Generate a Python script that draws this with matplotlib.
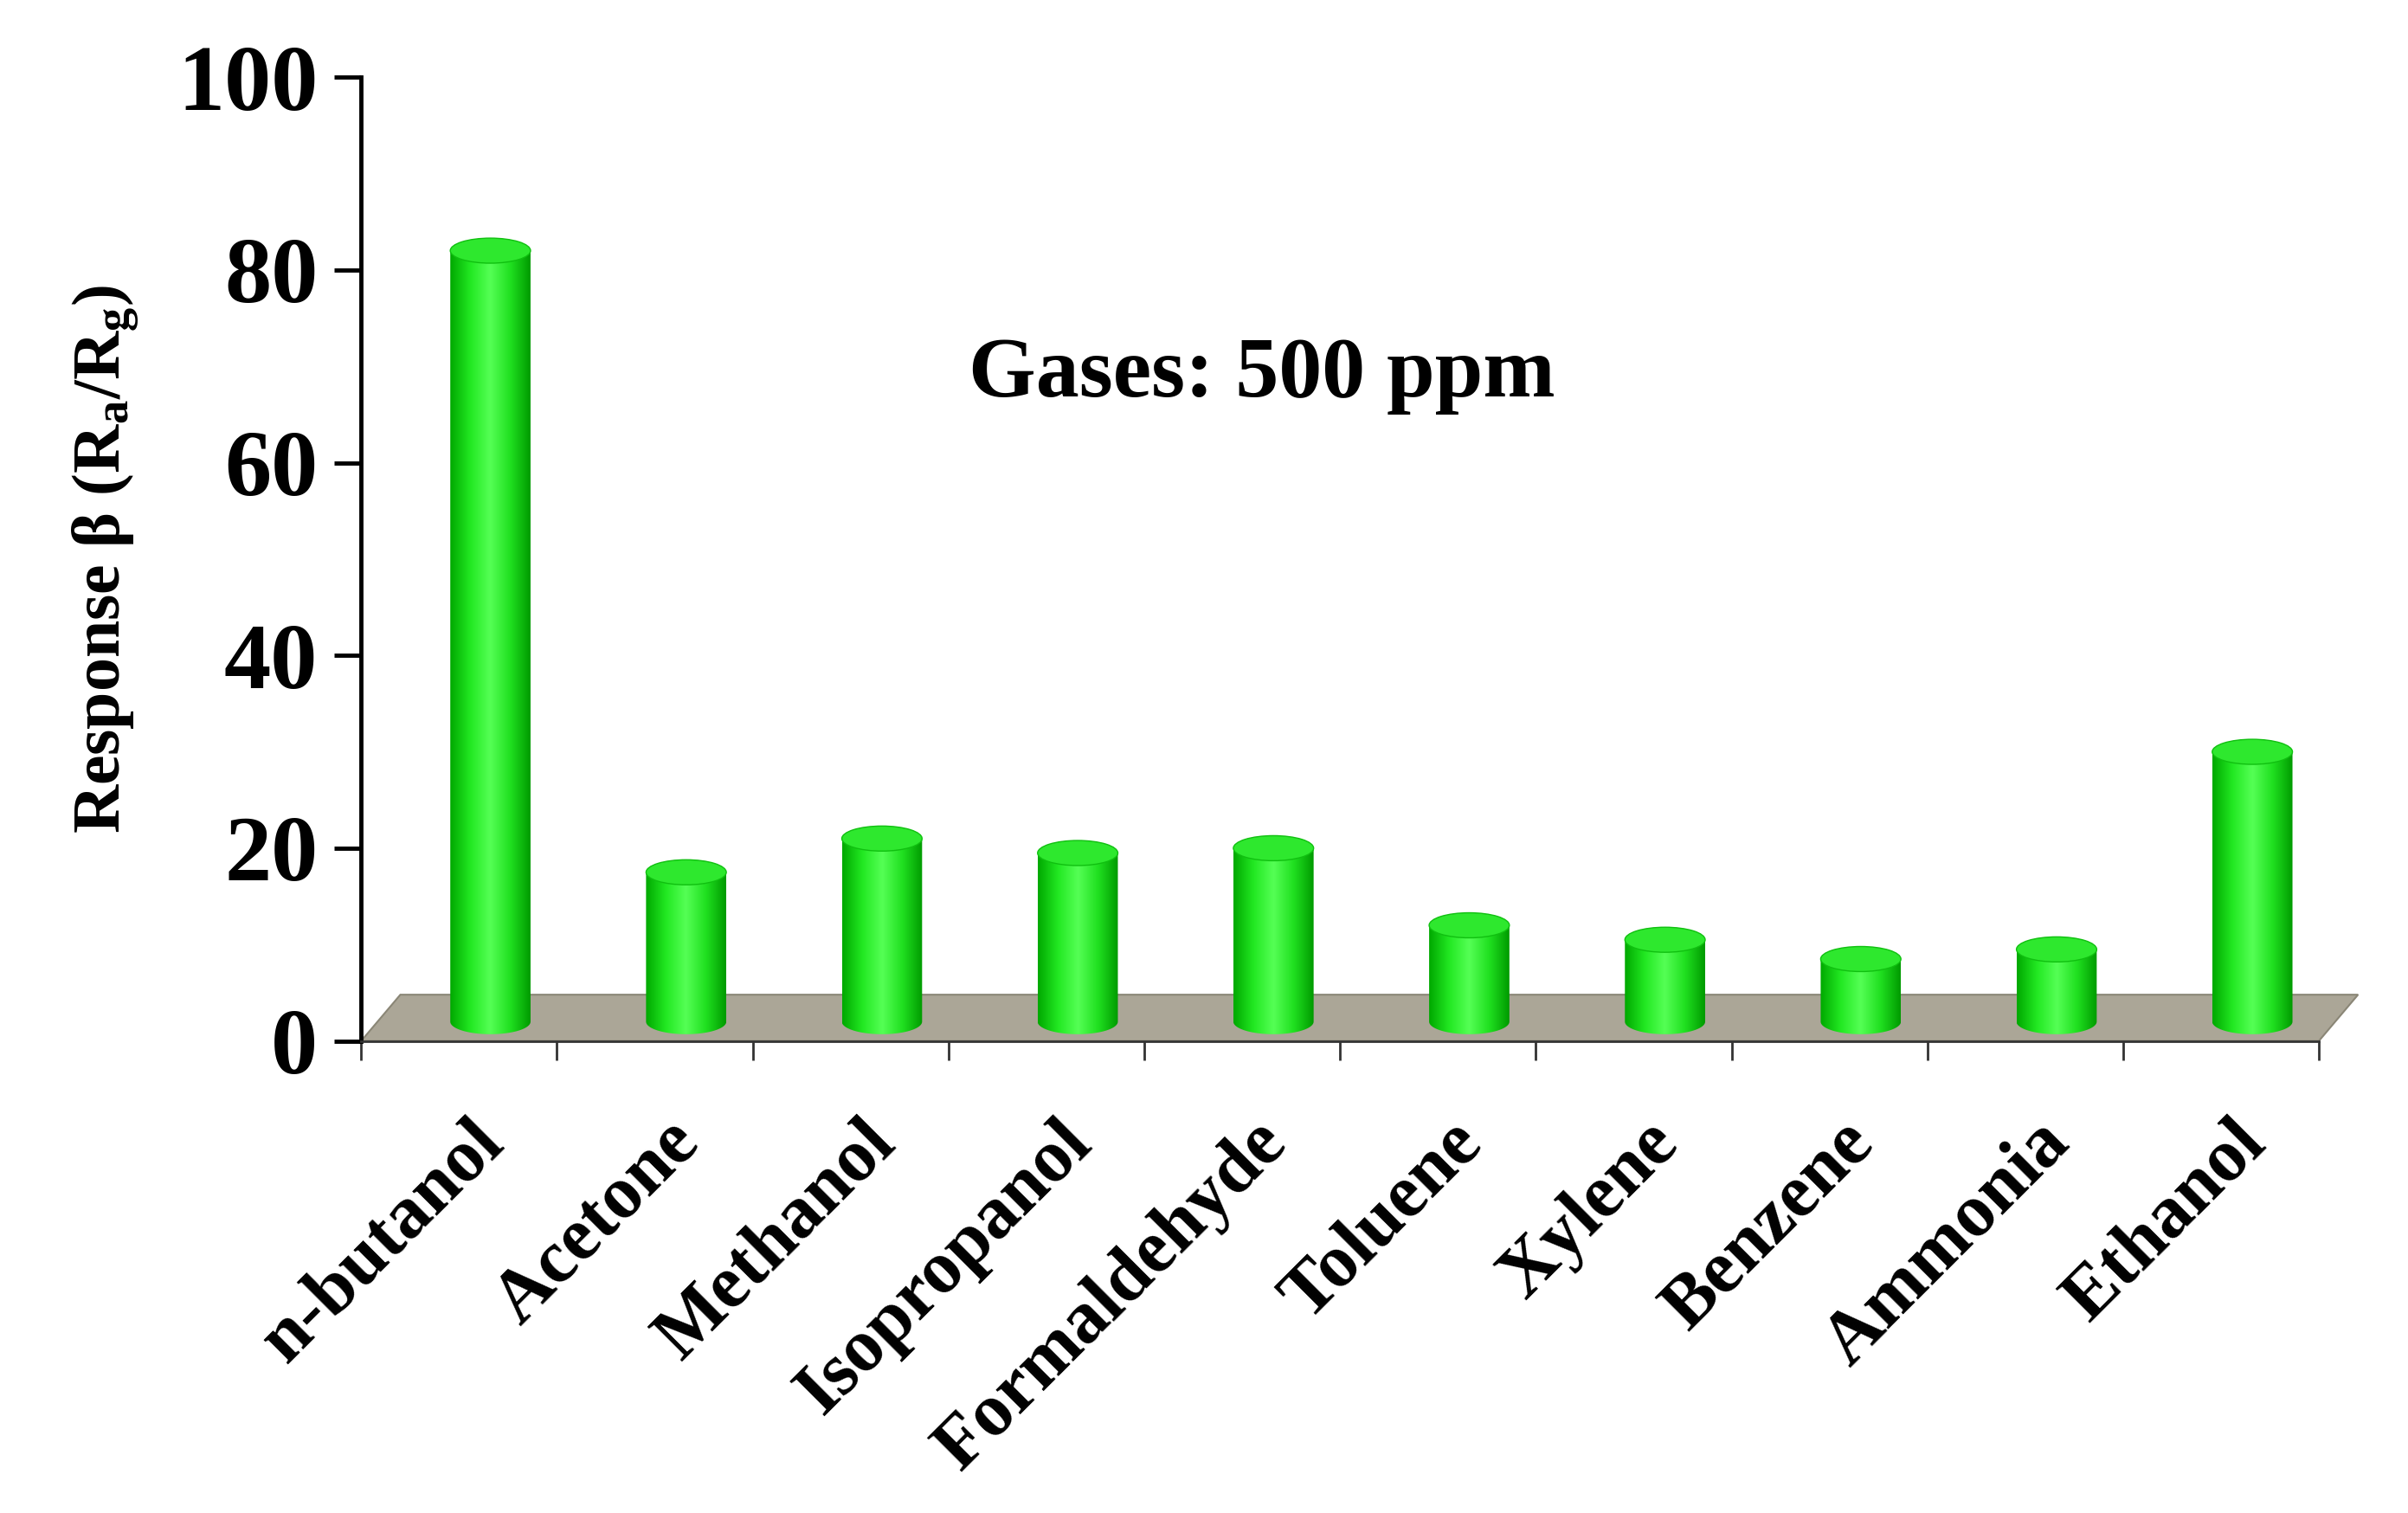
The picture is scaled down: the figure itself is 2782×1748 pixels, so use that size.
import matplotlib
matplotlib.use("Agg")
import matplotlib.pyplot as plt
import numpy as np
from matplotlib.patches import Polygon, Ellipse
from matplotlib.colors import LinearSegmentedColormap

gases = ["n-butanol", "Acetone", "Methanol", "Isopropanol", "Formaldehyde",
         "Toluene", "Xylene", "Benzene", "Ammonia", "Ethanol"]
responses = [82, 17.5, 21, 19.5, 20, 12, 10.5, 8.5, 9.5, 30]

plt.rcParams['font.family'] = ['Liberation Serif', 'DejaVu Serif']
plt.rcParams['mathtext.fontset'] = 'custom'
plt.rcParams['mathtext.rm'] = 'Liberation Serif:bold'
plt.rcParams['mathtext.it'] = 'Liberation Serif:bold'
plt.rcParams['mathtext.bf'] = 'Liberation Serif:bold'

fig = plt.figure(figsize=(27.82, 17.48), dpi=100)
ax = fig.add_axes([0.15, 0.312, 0.813, 0.637])
n = len(gases)
ax.set_xlim(0, n)
ax.set_ylim(0, 100)

floor = Polygon([[0, 0], [n, 0], [n + 0.2, 4.8], [0.2, 4.8]], closed=True,
                facecolor='#aba697', edgecolor='#8a8676', lw=1.5, zorder=1, clip_on=False)
ax.add_patch(floor)

cmap = LinearSegmentedColormap.from_list('g', ['#00a800', '#22e822', '#55ff55', '#20e020', '#009a00'])
grad = np.linspace(0, 1, 256).reshape(1, -1)
w = 0.41
eh = 2.6
base = 2.0
for i, v in enumerate(responses):
    cx = i + 0.5 + 0.16
    x0 = cx - w / 2
    t = np.linspace(np.pi, 2 * np.pi, 50)
    bottom = np.column_stack([cx + w / 2 * np.cos(t), base + eh / 2 * np.sin(t)])
    verts = np.vstack([[[x0, v]], bottom, [[x0 + w, v]], [[x0, v]]])
    body = Polygon(verts, closed=True, facecolor='none', edgecolor='none')
    ax.add_patch(body)
    im = ax.imshow(grad, cmap=cmap, aspect='auto', extent=[x0, x0 + w, base - eh, v],
                   zorder=2, interpolation='bicubic')
    im.set_clip_path(body)
    top = Ellipse((cx, v), w, eh, facecolor='#2ee82e', edgecolor='#10c010', lw=1, zorder=3)
    ax.add_patch(top)

ax.spines['top'].set_visible(False)
ax.spines['right'].set_visible(False)
ax.spines['left'].set_linewidth(3.5)
ax.spines['bottom'].set_linewidth(2)
ax.spines['bottom'].set_color('#333333')

ax.set_yticks(np.arange(0, 101, 20))
ax.tick_params(axis='y', direction='out', length=22, width=3.5, labelsize=78, pad=14)
for lab in ax.get_yticklabels():
    lab.set_fontweight('bold')

ax.set_xticks(np.arange(0, n + 1))
ax.set_xticklabels([])
ax.tick_params(axis='x', direction='out', length=16, width=2, color='#333333')
for i, g in enumerate(gases):
    ax.text(i + 0.55, -7, g, rotation=45, ha='right', va='top', fontsize=62,
            fontweight='bold', rotation_mode='anchor')

ax.set_ylabel(r'Response β (R$_\mathregular{a}$/R$_\mathregular{g}$)', fontsize=56,
              fontweight='bold', labelpad=30)
ax.text(4.6, 69, 'Gases: 500 ppm', ha='center', va='center', fontsize=72, fontweight='bold')

fig.savefig('out.png', dpi=100)
